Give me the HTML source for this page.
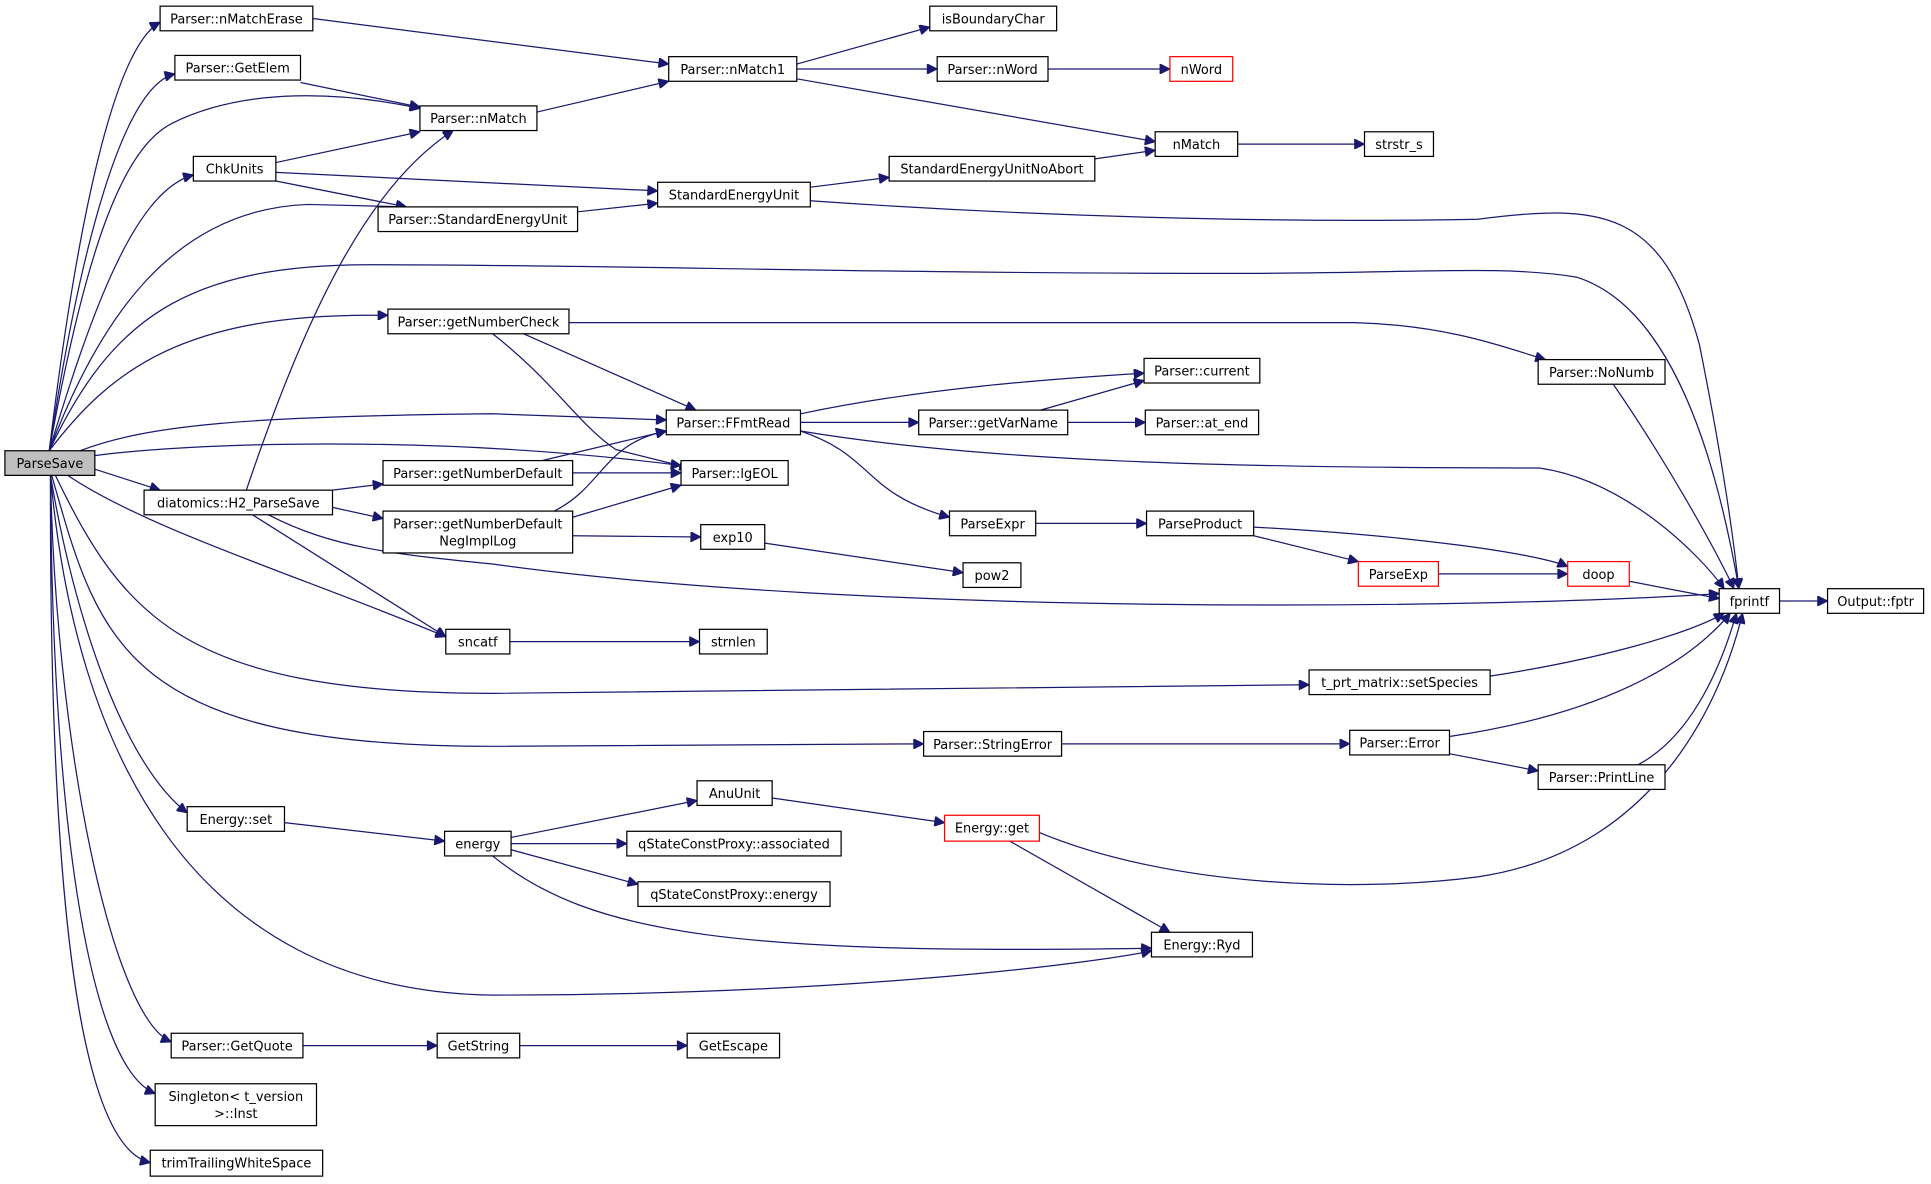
<!DOCTYPE html>
<html><head><meta charset="utf-8"><style>
html,body{margin:0;padding:0;background:#fff;}
svg{display:block;}
text{font-family:"DejaVu Sans","Liberation Sans",sans-serif;font-size:10.5px;fill:#000;text-anchor:middle;}
.e{fill:none;stroke:#191970;stroke-width:1;marker-end:url(#a);}
.n{fill:#fff;stroke:#000;stroke-width:1;}
.r{fill:#fff;stroke:#ff0000;stroke-width:1;}
</style></head><body>
<svg width="1931" height="1184" viewBox="0 0 1568 961.4" preserveAspectRatio="none" xmlns="http://www.w3.org/2000/svg">
<defs><marker id="a" viewBox="0 0 10 10" refX="10" refY="5" markerWidth="9" markerHeight="8" orient="auto" markerUnits="userSpaceOnUse"><path d="M0,0 L10,5 L0,10 z" fill="#191970" stroke="#191970"/></marker></defs>
<g>
<path class="e" d="M40,366 C60,200 90,40 130,18"/>
<path class="e" d="M40,366 C65,200 100,70 142,60"/>
<path class="e" d="M40,366 C70,200 100,120 140,100 C200,70 280,75 341,88"/>
<path class="e" d="M40,366 C75,250 110,155 157,142"/>
<path class="e" d="M40,366 C80,260 140,170 250,166 L330,168"/>
<path class="e" d="M40,366 C90,260 150,215 300,215 C500,215 700,222 1000,222 C1150,222 1220,215 1280,225 C1360,250 1395,380 1412,478"/>
<path class="e" d="M40,366 C90,300 150,255 305,256 L315,256"/>
<path class="e" d="M65,366 C120,345 200,338 400,336 L541,341"/>
<path class="e" d="M77,370 C150,360 350,352 553,378"/>
<path class="e" d="M77,381 L130,398"/>
<path class="e" d="M55,386 C120,430 250,470 362,517"/>
<path class="e" d="M45,386 C100,500 150,563 400,563 L1063,556"/>
<path class="e" d="M42,386 C80,520 100,606 400,606 L750,604"/>
<path class="e" d="M41,386 C60,500 100,620 152,660"/>
<path class="e" d="M41,386 C60,600 150,805 400,808 C700,808 900,780 935,772"/>
<path class="e" d="M41,386 C45,600 90,825 139,846"/>
<path class="e" d="M41,386 C42,650 70,865 126,888"/>
<path class="e" d="M41,386 C40,700 60,930 122,944"/>
<path class="e" d="M254,15 L543,52"/>
<path class="e" d="M244,67 L341,87"/>
<path class="e" d="M224,132 L341,107"/>
<path class="e" d="M224,140 L534,155"/>
<path class="e" d="M224,147 L330,168"/>
<path class="e" d="M469,172 L534,165"/>
<path class="e" d="M436,91 L543,66"/>
<path class="e" d="M647,52 L755,22"/>
<path class="e" d="M647,56 L761,56"/>
<path class="e" d="M647,64 L938,115"/>
<path class="e" d="M851,56 L950,56"/>
<path class="e" d="M1005,117 L1108,117"/>
<path class="e" d="M889,129 L938,122"/>
<path class="e" d="M658,152 L722,144"/>
<path class="e" d="M658,163 C900,180 1100,180 1200,178 C1300,165 1350,170 1380,280 C1400,380 1408,440 1412,478"/>
<path class="e" d="M462,262 L1100,262 C1180,264 1230,285 1255,292"/>
<path class="e" d="M425,271 L565,333"/>
<path class="e" d="M400,271 C450,310 470,345 500,365 L560,380"/>
<path class="e" d="M1310,312 C1350,370 1390,440 1408,478"/>
<path class="e" d="M650,336 C750,315 850,308 929,303"/>
<path class="e" d="M650,343 L746,343"/>
<path class="e" d="M650,350 C800,375 1000,380 1250,380 C1320,390 1380,450 1400,478"/>
<path class="e" d="M650,350 C710,370 700,400 771,420"/>
<path class="e" d="M845,333 L929,309"/>
<path class="e" d="M867,343 L930,343"/>
<path class="e" d="M200,398 C250,250 300,150 368,106"/>
<path class="e" d="M270,398 L311,393"/>
<path class="e" d="M270,412 L311,421"/>
<path class="e" d="M205,418 L362,517"/>
<path class="e" d="M218,418 C270,445 320,450 400,458 C700,500 1200,495 1396,482"/>
<path class="e" d="M440,374 L541,350"/>
<path class="e" d="M465,384 L553,384"/>
<path class="e" d="M450,415 C490,395 490,360 541,350"/>
<path class="e" d="M465,420 L553,394"/>
<path class="e" d="M465,435 L569,436"/>
<path class="e" d="M621,441 L782,465"/>
<path class="e" d="M841,425 L931,425"/>
<path class="e" d="M1018,428 C1150,435 1250,450 1273,460"/>
<path class="e" d="M1018,435 L1103,456"/>
<path class="e" d="M1168,466 L1273,466"/>
<path class="e" d="M1323,472 L1396,486"/>
<path class="e" d="M1445,488 L1484,488"/>
<path class="e" d="M414,521 L568,521"/>
<path class="e" d="M1210,549 C1300,535 1370,515 1400,498"/>
<path class="e" d="M862,604 L1096,604"/>
<path class="e" d="M1177,598 C1300,580 1370,540 1405,498"/>
<path class="e" d="M1177,612 L1249,626"/>
<path class="e" d="M1330,621 C1370,600 1395,550 1410,498"/>
<path class="e" d="M231,668 L361,683"/>
<path class="e" d="M415,680 L566,650"/>
<path class="e" d="M415,685 L509,685"/>
<path class="e" d="M415,690 L518,718"/>
<path class="e" d="M400,695 C480,760 600,775 935,770"/>
<path class="e" d="M627,648 L767,668"/>
<path class="e" d="M820,683 L950,757"/>
<path class="e" d="M844,676 C950,720 1100,725 1200,712 C1350,690 1400,560 1415,498"/>
<path class="e" d="M246,849 L355,849"/>
<path class="e" d="M422,849 L558,849"/>
</g>
<g>
<rect x="4" y="366" width="73" height="20" fill="#bfbfbf" stroke="#000"/><text x="40.5" y="380">ParseSave</text>
<rect class="n" x="130" y="5" width="124" height="20"/><text x="192" y="19">Parser::nMatchErase</text>
<rect class="n" x="142" y="45" width="102" height="20"/><text x="193" y="59">Parser::GetElem</text>
<rect class="n" x="341" y="86" width="95" height="20"/><text x="388.5" y="100">Parser::nMatch</text>
<rect class="n" x="157" y="127" width="67" height="20"/><text x="190.5" y="141">ChkUnits</text>
<rect class="n" x="307" y="168" width="162" height="20"/><text x="388" y="182">Parser::StandardEnergyUnit</text>
<rect class="n" x="315" y="251" width="147" height="20"/><text x="388.5" y="265">Parser::getNumberCheck</text>
<rect class="n" x="117" y="398" width="153" height="20"/><text x="193.5" y="412">diatomics::H2_ParseSave</text>
<rect class="n" x="311" y="374" width="154" height="20"/><text x="388" y="388">Parser::getNumberDefault</text>
<rect class="n" x="311" y="415" width="154" height="34"/><text x="388" y="429">Parser::getNumberDefault</text><text x="388" y="443">NegImplLog</text>
<rect class="n" x="362" y="511" width="52" height="20"/><text x="388" y="525">sncatf</text>
<rect class="n" x="152" y="655" width="79" height="20"/><text x="191.5" y="669">Energy::set</text>
<rect class="n" x="139" y="839" width="107" height="20"/><text x="192.5" y="853">Parser::GetQuote</text>
<rect class="n" x="126" y="880" width="131" height="34"/><text x="191.5" y="894">Singleton&lt; t_version</text><text x="191.5" y="908">&gt;::Inst</text>
<rect class="n" x="122" y="934" width="140" height="21"/><text x="192" y="948">trimTrailingWhiteSpace</text>
<rect class="n" x="755" y="5" width="103" height="20"/><text x="806.5" y="19">isBoundaryChar</text>
<rect class="n" x="543" y="46" width="104" height="20"/><text x="595" y="60">Parser::nMatch1</text>
<rect class="n" x="761" y="46" width="90" height="20"/><text x="806" y="60">Parser::nWord</text>
<rect class="r" x="950" y="46" width="51" height="20"/><text x="975.5" y="60">nWord</text>
<rect class="n" x="938" y="107" width="67" height="20"/><text x="971.5" y="121">nMatch</text>
<rect class="n" x="722" y="127" width="167" height="20"/><text x="805.5" y="141">StandardEnergyUnitNoAbort</text>
<rect class="n" x="534" y="148" width="124" height="20"/><text x="596" y="162">StandardEnergyUnit</text>
<rect class="n" x="1108" y="107" width="56" height="20"/><text x="1136" y="121">strstr_s</text>
<rect class="n" x="929" y="291" width="94" height="20"/><text x="976" y="305">Parser::current</text>
<rect class="n" x="541" y="333" width="109" height="20"/><text x="595.5" y="347">Parser::FFmtRead</text>
<rect class="n" x="746" y="333" width="121" height="20"/><text x="806.5" y="347">Parser::getVarName</text>
<rect class="n" x="930" y="333" width="92" height="20"/><text x="976" y="347">Parser::at_end</text>
<rect class="n" x="553" y="374" width="87" height="20"/><text x="596.5" y="388">Parser::lgEOL</text>
<rect class="n" x="569" y="426" width="52" height="20"/><text x="595" y="440">exp10</text>
<rect class="n" x="771" y="415" width="70" height="20"/><text x="806" y="429">ParseExpr</text>
<rect class="n" x="931" y="415" width="87" height="20"/><text x="974.5" y="429">ParseProduct</text>
<rect class="n" x="782" y="457" width="47" height="20"/><text x="805.5" y="471">pow2</text>
<rect class="r" x="1103" y="456" width="65" height="20"/><text x="1135.5" y="470">ParseExp</text>
<rect class="r" x="1273" y="456" width="50" height="20"/><text x="1298" y="470">doop</text>
<rect class="n" x="1396" y="478" width="49" height="20"/><text x="1420.5" y="492">fprintf</text>
<rect class="n" x="1484" y="478" width="78" height="20"/><text x="1523" y="492">Output::fptr</text>
<rect class="n" x="1249" y="292" width="103" height="20"/><text x="1300.5" y="306">Parser::NoNumb</text>
<rect class="n" x="1063" y="544" width="147" height="20"/><text x="1136.5" y="558">t_prt_matrix::setSpecies</text>
<rect class="n" x="568" y="511" width="55" height="20"/><text x="595.5" y="525">strnlen</text>
<rect class="n" x="750" y="594" width="112" height="20"/><text x="806" y="608">Parser::StringError</text>
<rect class="n" x="1096" y="593" width="81" height="20"/><text x="1136.5" y="607">Parser::Error</text>
<rect class="n" x="1249" y="621" width="103" height="20"/><text x="1300.5" y="635">Parser::PrintLine</text>
<rect class="n" x="566" y="634" width="61" height="20"/><text x="596.5" y="648">AnuUnit</text>
<rect class="n" x="509" y="675" width="174" height="20"/><text x="596" y="689">qStateConstProxy::associated</text>
<rect class="r" x="767" y="662" width="77" height="21"/><text x="805.5" y="676">Energy::get</text>
<rect class="n" x="518" y="716" width="156" height="20"/><text x="596" y="730">qStateConstProxy::energy</text>
<rect class="n" x="935" y="757" width="82" height="20"/><text x="976" y="771">Energy::Ryd</text>
<rect class="n" x="361" y="675" width="54" height="20"/><text x="388" y="689">energy</text>
<rect class="n" x="355" y="839" width="67" height="20"/><text x="388.5" y="853">GetString</text>
<rect class="n" x="558" y="839" width="75" height="20"/><text x="595.5" y="853">GetEscape</text>
</g>
</svg>
</body></html>
